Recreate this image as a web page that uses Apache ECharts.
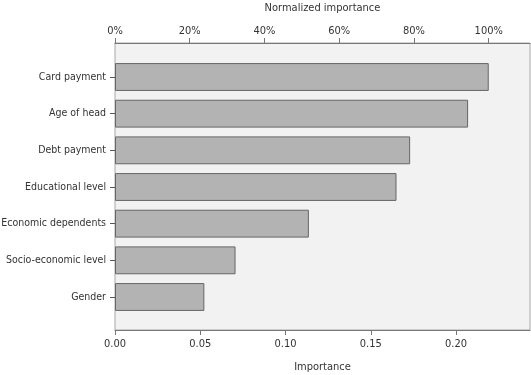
<!DOCTYPE html>
<html><head><meta charset="utf-8">
<script src="https://cdn.jsdelivr.net/npm/echarts@6/dist/echarts.min.js"></script>
<style>html,body{margin:0;padding:0;background:#fff}#c{width:531px;height:375px}</style>
</head><body><div id="c"></div>
<script>
const categories = ['Card payment','Age of head','Debt payment','Educational level','Economic dependents','Socio-economic level','Gender'];
const importance = [0.2192,0.2071,0.1731,0.1651,0.1137,0.0707,0.0524];
const xMax = 0.2434;
const topMax = xMax / Math.max(...importance) * 100;

const FONT = '"DejaVu Sans Condensed", "Liberation Sans Narrow", sans-serif';
const txt = {color:'#333', fontFamily:FONT, fontSize:11};

const chart = echarts.init(document.getElementById('c'), null, {renderer:'canvas'});
chart.setOption({
  animation:false,
  backgroundColor:'#fff',
  grid:[
    {left:115, right:1, top:43, bottom:45, show:true, backgroundColor:'#f2f2f2', borderColor:'#a8a8a8', borderWidth:1,
     containLabel:false, outerBoundsMode:'none'},
    {left:115, right:1, top:58.67, bottom:59.67, containLabel:false, outerBoundsMode:'none'}
  ],
  xAxis:[
    {gridIndex:0, type:'value', position:'bottom', min:0, max:xMax, interval:0.05,
     axisLine:{show:true, lineStyle:{color:'#777'}}, axisTick:{show:true, length:5, lineStyle:{color:'#777'}},
     splitLine:{show:false}, axisLabel:Object.assign({margin:9, formatter:v=>v.toFixed(2), showMaxLabel:false}, txt),
     name:'Importance', nameLocation:'middle', nameGap:32, nameTextStyle:txt},
    {gridIndex:0, type:'value', position:'top', min:0, max:topMax, interval:20,
     axisLine:{show:true, lineStyle:{color:'#777'}}, axisTick:{show:true, length:5, lineStyle:{color:'#777'}},
     splitLine:{show:false}, axisLabel:Object.assign({margin:6, formatter:'{value}%', showMaxLabel:false}, txt),
     name:'Normalized importance', nameLocation:'middle', nameGap:29, nameTextStyle:txt},
    {gridIndex:1, type:'value', min:0, max:xMax, show:false}
  ],
  yAxis:[
    {gridIndex:0, type:'value', show:false},
    {gridIndex:1, type:'category', inverse:true, data:categories,
     axisLine:{show:false}, axisTick:{show:true, alignWithLabel:true, length:5, lineStyle:{color:'#555'}},
     axisLabel:Object.assign({}, txt, {margin:9, fontSize:10.5})}
  ],
  series:[{
    type:'bar', xAxisIndex:2, yAxisIndex:1, data:importance, barWidth:'76%',
    itemStyle:{color:'#b3b3b3', borderColor:'#666', borderWidth:1}
  }]
});
</script></body></html>
